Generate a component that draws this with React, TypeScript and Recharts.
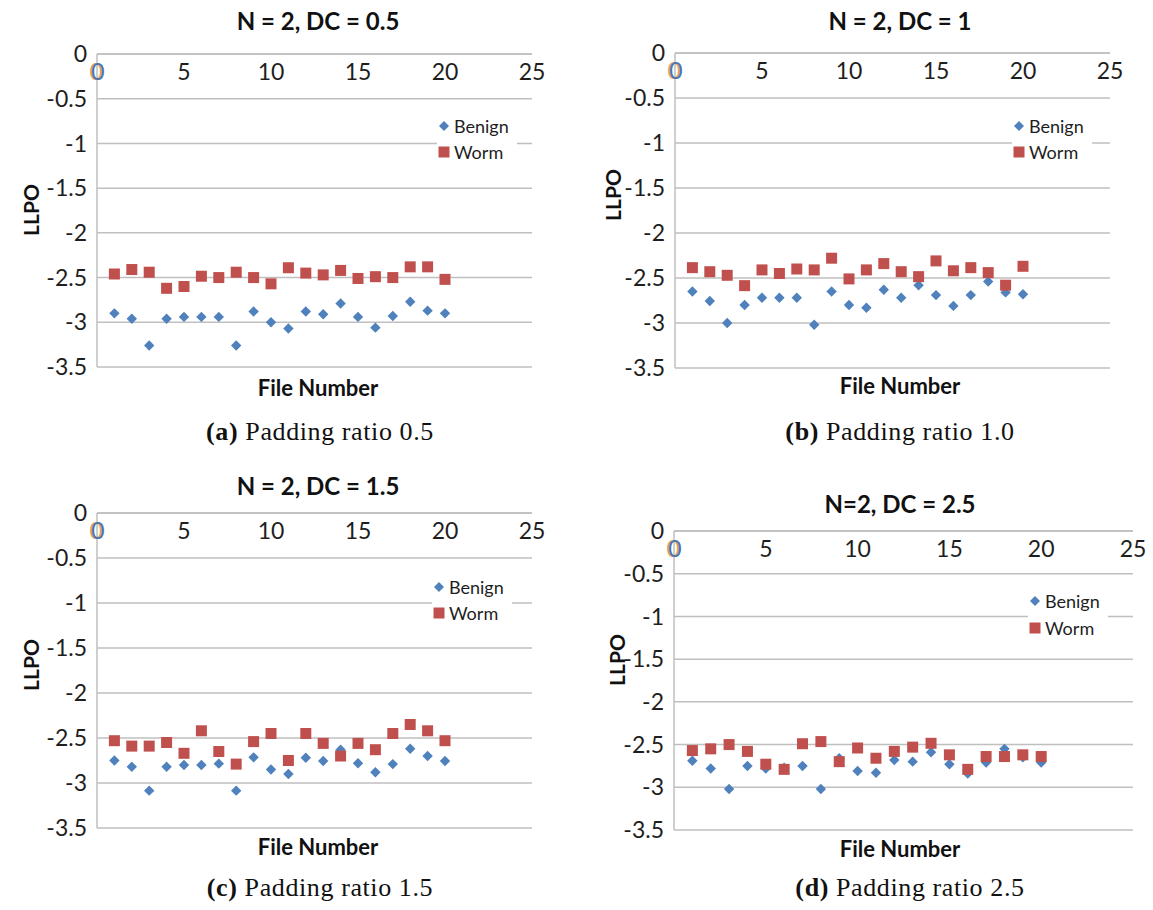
import {
  ScatterChart,
  Scatter,
  XAxis,
  YAxis,
  CartesianGrid,
} from "recharts";

// file numbers 1..20 (x values)
const files = [1, 2, 3, 4, 5, 6, 7, 8, 9, 10, 11, 12, 13, 14, 15, 16, 17, 18, 19, 20];
const xTicks = [0, 5, 10, 15, 20, 25];
const yTicks = [0, -0.5, -1, -1.5, -2, -2.5, -3, -3.5];

// (a) DC = 0.5
const benignA = [-2.9, -2.96, -3.26, -2.96, -2.94, -2.94, -2.94, -3.26, -2.88, -3.0, -3.07, -2.88, -2.91, -2.79, -2.94, -3.06, -2.93, -2.77, -2.87, -2.9];
const wormA = [-2.46, -2.41, -2.44, -2.62, -2.6, -2.485, -2.5, -2.44, -2.5, -2.57, -2.39, -2.45, -2.47, -2.42, -2.51, -2.49, -2.5, -2.38, -2.38, -2.52];

// (b) DC = 1
const benignB = [-2.65, -2.755, -3.0, -2.8, -2.72, -2.72, -2.72, -3.02, -2.65, -2.8, -2.83, -2.63, -2.72, -2.58, -2.69, -2.81, -2.69, -2.54, -2.66, -2.68];
const wormB = [-2.385, -2.43, -2.47, -2.585, -2.41, -2.45, -2.4, -2.41, -2.28, -2.51, -2.41, -2.34, -2.43, -2.485, -2.31, -2.42, -2.385, -2.44, -2.58, -2.37];

// (c) DC = 1.5
const benignC = [-2.75, -2.82, -3.085, -2.82, -2.8, -2.8, -2.785, -3.085, -2.715, -2.85, -2.9, -2.72, -2.755, -2.63, -2.78, -2.88, -2.79, -2.62, -2.7, -2.755];
const wormC = [-2.53, -2.59, -2.59, -2.55, -2.67, -2.42, -2.65, -2.79, -2.54, -2.45, -2.75, -2.45, -2.56, -2.7, -2.56, -2.63, -2.45, -2.35, -2.42, -2.53];

// (d) DC = 2.5
const benignD = [-2.69, -2.78, -3.02, -2.75, -2.78, -2.77, -2.75, -3.02, -2.66, -2.81, -2.83, -2.68, -2.7, -2.59, -2.73, -2.84, -2.71, -2.55, -2.65, -2.71];
const wormD = [-2.57, -2.55, -2.5, -2.58, -2.73, -2.79, -2.49, -2.465, -2.7, -2.54, -2.66, -2.58, -2.53, -2.485, -2.62, -2.79, -2.64, -2.64, -2.62, -2.64];

const BLUE = "#4F81BD";
const RED = "#C0504D";
const GRID = "#bfbfbf";
const SANS = 'Lato, "Open Sans", sans-serif';
const SERIF = '"Liberation Serif", "DejaVu Serif", serif';
const INK = "#1e1e1e";
const TICK_FS = 23;

const panels = [
  {
    key: "a", title: "N = 2, DC = 0.5", tag: "(a)", caption: "Padding ratio 0.5",
    benign: benignA, worm: wormA,
    box: { x: 0, y: 0, w: 580, h: 450 }, plot: { l: 97, r: 532, t: 54, b: 367 },
    titleAt: [318, 20], fileAt: [318, 387], llpoAt: [30, 210], captionAt: [320, 432], legendAt: [437, 113], row: 26,
  },
  {
    key: "b", title: "N = 2, DC = 1", tag: "(b)", caption: "Padding ratio 1.0",
    benign: benignB, worm: wormB,
    box: { x: 580, y: 0, w: 573, h: 450 }, plot: { l: 675, r: 1110, t: 53, b: 368 },
    titleAt: [900, 20], fileAt: [900, 385], llpoAt: [612, 195], captionAt: [900, 432], legendAt: [1012, 113], row: 26,
  },
  {
    key: "c", title: "N = 2, DC = 1.5", tag: "(c)", caption: "Padding ratio 1.5",
    benign: benignC, worm: wormC,
    box: { x: 0, y: 450, w: 580, h: 460 }, plot: { l: 97, r: 532, t: 513, b: 828 },
    titleAt: [318, 485], fileAt: [318, 846], llpoAt: [30, 665], captionAt: [320, 888], legendAt: [432, 574], row: 26,
  },
  {
    key: "d", title: "N=2, DC = 2.5", tag: "(d)", caption: "Padding ratio 2.5",
    benign: benignD, worm: wormD,
    box: { x: 580, y: 450, w: 573, h: 460 }, plot: { l: 674, r: 1133, t: 531, b: 830 },
    titleAt: [900, 503], fileAt: [900, 848], llpoAt: [616, 660], captionAt: [910, 888], legendAt: [1028, 587], row: 27,
  },
];

const Diamond = (props: any) => {
  const { cx, cy } = props;
  const s = 5.2;
  return <polygon points={`${cx},${cy - s} ${cx + s},${cy} ${cx},${cy + s} ${cx - s},${cy}`} fill={BLUE} />;
};

const Square = (props: any) => {
  const { cx, cy } = props;
  return <rect x={cx - 5.5} y={cy - 5.5} width={11} height={11} fill={RED} />;
};

const Centered = ({ at, style, children }: any) => (
  <div
    style={{
      position: "absolute",
      left: at[0],
      top: at[1],
      transform: "translate(-50%, -50%)",
      whiteSpace: "nowrap",
      ...style,
    }}
  >
    {children}
  </div>
);

function Panel({ p }: { p: any }) {
  const yW = 56;
  const xH = 20;
  const margin = {
    left: p.plot.l - p.box.x - yW,
    top: p.plot.t - p.box.y - xH,
    right: p.box.x + p.box.w - p.plot.r,
    bottom: p.box.y + p.box.h - p.plot.b,
  };
  const plotTop = margin.top + xH;
  const benignData = files.map((f, i) => ({ x: f, y: p.benign[i] }));
  const wormData = files.map((f, i) => ({ x: f, y: p.worm[i] }));

  const xTick = ({ x, payload }: any) => {
    const ty = plotTop + 17;
    if (payload.value === 0) {
      return (
        <g>
          <text x={x - 0.8} y={ty} textAnchor="middle" dominantBaseline="central" fontSize={TICK_FS} fontFamily={SANS} fill="#e0a050">0</text>
          <text x={x + 0.8} y={ty} textAnchor="middle" dominantBaseline="central" fontSize={TICK_FS} fontFamily={SANS} fill="#4a74b0">0</text>
        </g>
      );
    }
    return (
      <text x={x} y={ty} textAnchor="middle" dominantBaseline="central" fontSize={TICK_FS} fontFamily={SANS} fill={INK}>
        {payload.value}
      </text>
    );
  };

  const legendRow = (icon: any, label: string) => (
    <div style={{ height: p.row, display: "flex", alignItems: "center" }}>
      <svg width={14} height={14} style={{ marginRight: 3 }}>{icon}</svg>
      <span>{label}</span>
    </div>
  );

  return (
    <>
      <div style={{ position: "absolute", left: p.box.x, top: p.box.y }}>
        <ScatterChart width={p.box.w} height={p.box.h} margin={margin}>
          <CartesianGrid horizontal vertical={false} stroke={GRID} strokeWidth={1.5} />
          <XAxis
            type="number"
            dataKey="x"
            orientation="top"
            height={xH}
            domain={[0, 25]}
            ticks={xTicks}
            allowDataOverflow
            tickLine={false}
            axisLine={{ stroke: GRID, strokeWidth: 1.5 }}
            tick={xTick}
          />
          <YAxis
            type="number"
            dataKey="y"
            width={yW}
            domain={[-3.5, 0]}
            ticks={yTicks}
            allowDataOverflow
            tickLine={false}
            tickSize={0}
            tickMargin={10}
            axisLine={{ stroke: GRID, strokeWidth: 1.5 }}
            tick={{ fontSize: TICK_FS, fontFamily: SANS, fill: INK }}
          />
          <Scatter name="Benign" data={benignData} shape={Diamond} isAnimationActive={false} />
          <Scatter name="Worm" data={wormData} shape={Square} isAnimationActive={false} />
        </ScatterChart>
      </div>
      <Centered at={p.titleAt} style={{ fontFamily: SANS, fontWeight: 700, fontSize: 24, color: "#111" }}>
        {p.title}
      </Centered>
      <Centered at={p.fileAt} style={{ fontFamily: SANS, fontWeight: 700, fontSize: 22, color: "#111" }}>
        File Number
      </Centered>
      <Centered
        at={p.llpoAt}
        style={{ fontFamily: SANS, fontWeight: 700, fontSize: 21, color: "#111", transform: "translate(-50%, -50%) rotate(-90deg)" }}
      >
        LLPO
      </Centered>
      <Centered at={p.captionAt} style={{ fontFamily: SERIF, fontSize: 26, letterSpacing: 0.6, color: "#111" }}>
        <b>{p.tag}</b> {p.caption}
      </Centered>
      <div
        style={{
          position: "absolute",
          left: p.legendAt[0],
          top: p.legendAt[1],
          width: 80,
          background: "#fff",
          fontFamily: SANS,
          fontSize: 18,
          color: INK,
        }}
      >
        {legendRow(<polygon points="7,2 12,7 7,12 2,7" fill={BLUE} />, "Benign")}
        {legendRow(<rect x={1.5} y={1.5} width={11} height={11} fill={RED} />, "Worm")}
      </div>
    </>
  );
}

export default function App() {
  return (
    <div style={{ position: "fixed", left: 0, top: 0, width: 1153, height: 910, background: "#fff", overflow: "hidden" }}>
      {panels.map((p) => (
        <Panel key={p.key} p={p} />
      ))}
    </div>
  );
}
